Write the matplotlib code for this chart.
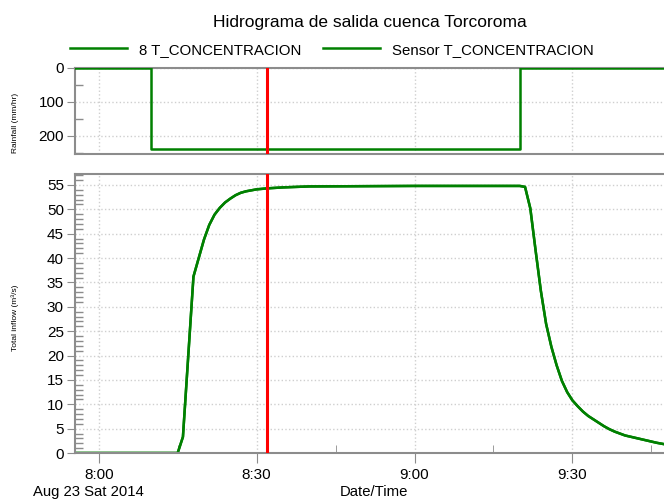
import datetime as dt
import matplotlib
matplotlib.use("Agg")
import matplotlib.pyplot as plt
import matplotlib.dates as mdates
from matplotlib.ticker import MultipleLocator

plt.rcParams['font.family'] = ['Liberation Sans', 'DejaVu Sans']

# data
day = "2014-08-23"
rain_times = ["07:50", "08:10", "09:20", "09:50"]
rain_vals = [0, 240, 0, 0]

flow_times = ["07:50", "08:15", "08:16", "08:18", "08:19", "08:20", "08:21", "08:22",
              "08:23", "08:24", "08:25", "08:26", "08:27", "08:28", "08:30", "08:32",
              "08:35", "08:40", "09:00", "09:20", "09:21", "09:22", "09:23", "09:24",
              "09:25", "09:26", "09:27", "09:28", "09:29", "09:30", "09:31", "09:32",
              "09:33", "09:34", "09:35", "09:36", "09:37", "09:38", "09:40", "09:42",
              "09:44", "09:46", "09:48"]
flow_vals = [0, 0, 3.3, 36.2, 40.0, 43.8, 46.8, 48.9,
             50.3, 51.4, 52.2, 52.9, 53.4, 53.7, 54.1, 54.3,
             54.5, 54.7, 54.8, 54.8, 54.6, 50.2, 41.6, 33.3,
             26.5, 21.8, 18.0, 14.8, 12.5, 10.8, 9.6, 8.5,
             7.6, 6.9, 6.2, 5.5, 4.9, 4.4, 3.6, 3.1,
             2.6, 2.1, 1.7]
marker_time = "08:32"

def to_dt(t):
    return dt.datetime.strptime(day + " " + t, "%Y-%m-%d %H:%M")

rt = [to_dt(t) for t in rain_times]
ft = [to_dt(t) for t in flow_times]
mt = to_dt(marker_time)

green = "#008000"
gray = "#8c8c8c"
grid_c = "#cfcfcf"

fig = plt.figure(figsize=(6.64, 5.01), dpi=100)
ax1 = fig.add_axes([0.113, 0.6926, 0.887, 0.1717])
ax2 = fig.add_axes([0.113, 0.0958, 0.887, 0.5569])

xmin = to_dt("07:55") + dt.timedelta(seconds=30)
xmax = to_dt("09:47") + dt.timedelta(seconds=24)

for ax in (ax1, ax2):
    ax.set_xlim(xmin, xmax)
    ax.xaxis.set_major_locator(mdates.MinuteLocator(byminute=[0, 30]))
    ax.xaxis.set_minor_locator(mdates.MinuteLocator(byminute=[15, 45]))
    ax.xaxis.set_major_formatter(mdates.DateFormatter("%-H:%M"))
    ax.spines['right'].set_visible(False)
    for s in ('top', 'left', 'bottom'):
        ax.spines[s].set_color(gray)
        ax.spines[s].set_linewidth(1.5)
    ax.grid(True, which='major', color=grid_c, linestyle=':', linewidth=1)
    ax.set_axisbelow(True)
    ax.axvline(mt, color='red', linewidth=2.2, zorder=5)
    ax.tick_params(axis='y', which='major', direction='out', length=6, color=gray,
                   labelsize=11, pad=2)
    ax.tick_params(axis='y', which='minor', direction='in', length=6, color=gray, width=1)

# rainfall panel
l1, = ax1.step(rt, rain_vals, where='post', color=green, linewidth=1.8, zorder=3)
ax1.set_ylim(254, 0)
ax1.yaxis.set_major_locator(MultipleLocator(100))
ax1.yaxis.set_minor_locator(MultipleLocator(50))
ax1.tick_params(axis='x', which='both', length=0, labelbottom=False)

# inflow panel (model and sensor lie on top of each other)
ax2.plot(ft, flow_vals, color=green, linewidth=1.8)
l2, = ax2.plot(ft, flow_vals, color=green, linewidth=1.8)
ax2.set_ylim(0, 57.25)
ax2.yaxis.set_major_locator(MultipleLocator(5))
ax2.yaxis.set_minor_locator(MultipleLocator(1))
ax2.tick_params(axis='x', which='major', direction='out', length=7, color=gray,
                labelsize=11, pad=4)
ax2.tick_params(axis='x', which='minor', direction='in', length=6, color=gray)

fig.text(0.557, 0.955, "Hidrograma de salida cuenca Torcoroma", ha='center', va='center',
         fontsize=12.5)
fig.legend([l1, l2], ["8 T_CONCENTRACION", "Sensor T_CONCENTRACION"], ncol=2,
           loc='center', bbox_to_anchor=(0.5, 0.901), frameon=False, fontsize=10.8,
           handlelength=3.8, handletextpad=0.8, columnspacing=1.4)

fig.text(0.023, 0.755, "Rainfall (mm/hr)", rotation=90, ha='center', va='center', fontsize=6)
fig.text(0.023, 0.365, "Total inflow (m\u00b3/s)", rotation=90, ha='center', va='center',
         fontsize=6)
fig.text(0.133, 0.018, "Aug 23 Sat 2014", ha='center', va='center', fontsize=10.7)
fig.text(0.563, 0.018, "Date/Time", ha='center', va='center', fontsize=10.7)

fig.savefig("out.png", dpi=100)
